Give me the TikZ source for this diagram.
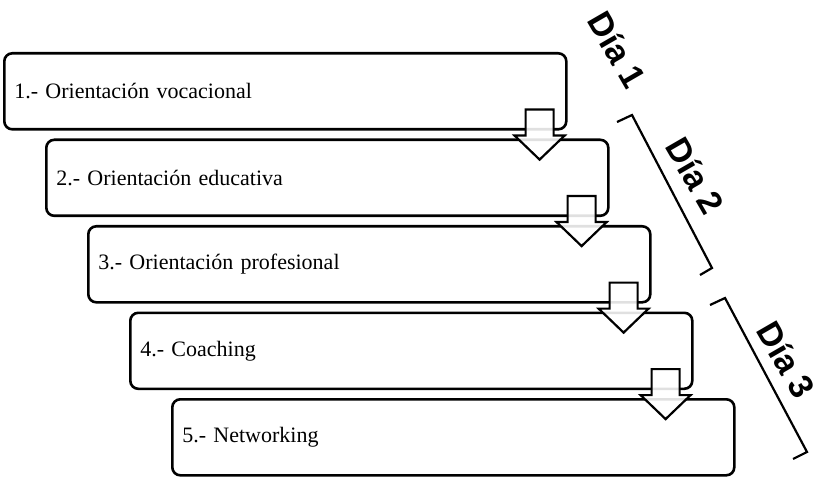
\documentclass[tikz,border=0pt]{standalone}
\usepackage{fontspec}
\setmainfont{Liberation Serif}
\newfontfamily\diafont{Liberation Sans}
\usetikzlibrary{calc}

\begin{document}
\begin{tikzpicture}[x=1pt, y=-1pt,
  paso/.style={draw, line width=2.6pt, rounded corners=8pt, anchor=north west,
    text width=542pt, inner xsep=10pt, minimum height=76pt, align=left,
    font=\fontsize{22}{26}\selectfont},
  flecha/.style={draw, line width=2.2pt, fill=white, fill opacity=.88},
  dia/.style={font=\diafont\bfseries\fontsize{34}{38}\selectfont, rotate=-60},
  llave/.style={line width=2.2pt}]
\useasboundingbox (0,0) rectangle (818,478);

% cajas de los pasos
\foreach \n/\txt [count=\i from 0] in {1/Orientación vocacional,
    2/Orientación educativa, 3/Orientación profesional, 4/Coaching, 5/Networking}
  \node[paso] (p\n) at (3+42*\i, 52+86.5*\i) {\n.- \txt};

% flechas de bloque entre cajas
\foreach \a/\b in {p1/p2, p2/p3, p3/p4, p4/p5}
  \draw[flecha] ($(\a.south east)+(-42,-21)$) --++(0,26) --++(-11,0) --++(25,24)
     --++(25,-24) --++(-11,0) --++(0,-26) -- cycle;

% llaves de los dias
\coordinate (d2a) at (617,122);
\coordinate (d2b) at (632,115);
\coordinate (d2c) at (712,268);
\coordinate (d2d) at (700,275);
\draw[llave] (d2a) -- (d2b) -- (d2c) -- (d2d);
\coordinate (d3a) at (710,305);
\coordinate (d3b) at (725,298);
\coordinate (d3c) at (807,452);
\coordinate (d3d) at (793,459);
\draw[llave] (d3a) -- (d3b) -- (d3c) -- (d3d);

\node[dia] (dia1) at (617,50) {Día 1};
\node[dia] (dia2) at (695,176) {Día 2};
\node[dia] (dia3) at (786,360) {Día 3};
\end{tikzpicture}
\end{document}
